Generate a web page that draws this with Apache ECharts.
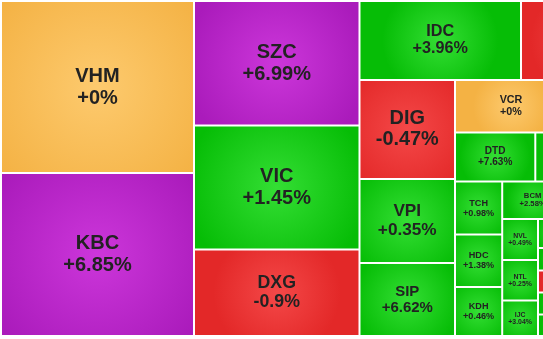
<!DOCTYPE html>
<html>
<head>
<meta charset="utf-8">
<script src="https://cdn.jsdelivr.net/npm/echarts@6/dist/echarts.min.js"></script>
<style>
html,body{margin:0;padding:0;background:#fff;overflow:hidden}
#main{width:543px;height:339px}
</style>
</head>
<body>
<div id="main"></div>
<script>
// ---- data ----
// '' = tile whose label lies outside the visible frame (only a sliver shows)
const tickers = ['VHM','KBC','SZC','VIC','DXG','IDC','','DIG','VPI','SIP','VCR','','DTD','','TCH','HDC','KDH','BCM','','NVL','NTL','IJC','','','','','',''];
const changes = [0, 6.85, 6.99, 1.45, -0.9, 3.96, null, -0.47, 0.35, 6.62, 0, null, 7.63, null, 0.98, 1.38, 0.46, 2.58, null, 0.49, 0.25, 3.04, null, null, null, null, null, null];
const states  = ['ref','ceil','ceil','up','down','up','down','down','up','up','ref','up','up','up','up','up','up','up','up','up','up','up','up','up','down','up','up','up'];
const sizes   = [33196, 31459, 20604.75, 20522, 14315.75, 12758.5, 10665, 9454.5, 8022, 6971.5, 5880, 4672.5, 3934.7, 5914.3, 2501.6, 2478, 2312.8, 2280, 3487.5, 1467.8, 1449.9, 1270.9, 1044, 810, 792, 792, 774, 9594];
const blocks  = ['g1','g1','g2','g2','g2','g3/a','g3/a','g3/b','g3/b','g3/b','g3/c/a','g3/c/a','g3/c/b','g3/c/b','g3/c/c','g3/c/c','g3/c/c','g3/c/d/a','g3/c/d/a','g3/c/d/b','g3/c/d/b','g3/c/d/b','g3/c/d/c/a','g3/c/d/c/a','g3/c/d/c/a','g3/c/d/c/a','g3/c/d/c/a','g3/c/d/c'];

// ---- styles ----
const FONT = '"Liberation Sans", Arial, sans-serif';
const palette = {
  up:   ['#34de34', '#06bd06'],
  down: ['#f44848', '#e32828'],
  ref:  ['#fdca6e', '#f4b244'],
  ceil: ['#cc36da', '#aa1bbb']
};
function fill(state) {
  const c = palette[state];
  return { type: 'radial', x: 0.5, y: 0.5, r: 0.75,
    colorStops: [{ offset: 0, color: c[0] }, { offset: 1, color: c[1] }] };
}
function fmt(v) { return (v >= 0 ? '+' : '') + v + '%'; }

const measureCtx = document.createElement('canvas').getContext('2d');
measureCtx.font = 'bold 100px ' + FONT;
function emWidth(i) {
  const a = measureCtx.measureText(tickers[i]).width;
  const b = measureCtx.measureText(fmt(changes[i])).width;
  return Math.max(a, b) / 100;
}

function buildTree(fonts) {
  const root = { children: [] };
  tickers.forEach((t, i) => {
    let node = root;
    blocks[i].split('/').forEach(key => {
      let child = node.children.find(c => c.key === key && c.children);
      if (!child) {
        child = { key: key, name: '', children: [], itemStyle: { borderWidth: 0, gapWidth: 0 } };
        node.children.push(child);
      }
      node = child;
    });
    const fs = fonts && fonts[t] ? fonts[t] : 12;
    node.children.push({
      name: t, value: sizes[i], change: changes[i],
      itemStyle: { color: fill(states[i]), borderWidth: 1, borderColor: '#fff' },
      label: { fontSize: fs, lineHeight: Math.round(fs * 1.08) }
    });
  });
  return root.children;
}

function makeOption(fonts) {
  return {
    animation: false,
    series: [{
      type: 'treemap',
      left: 1, top: 1, width: 655, height: 335,
      squareRatio: 0.01,
      sort: false,
      roam: false,
      nodeClick: false,
      breadcrumb: { show: false },
      itemStyle: { borderWidth: 0, gapWidth: 0, borderColor: '#fff' },
      upperLabel: { show: false },
      label: {
        show: true, position: 'inside', align: 'center', verticalAlign: 'middle',
        padding: 0, color: '#222', fontWeight: 'bold',
        fontFamily: FONT,
        formatter: p => (p.data && p.data.name) ? p.data.name + '\n' + fmt(p.data.change) : ''
      },
      emphasis: { disabled: true },
      data: buildTree(fonts)
    }]
  };
}

const chart = echarts.init(document.getElementById('main'), null, { renderer: 'canvas' });
chart.setOption(makeOption(null));

// label size follows the tile that the library laid out
const fonts = {};
try {
  const data = chart.getModel().getSeriesByIndex(0).getData();
  data.each(idx => {
    const name = data.getName(idx);
    const lay = data.getItemLayout(idx);
    const i = tickers.indexOf(name);
    if (name && lay && i >= 0) {
      fonts[name] = Math.max(6.5, Math.min(20, 0.205 * lay.height, 0.66 * lay.width / emWidth(i)));
    }
  });
} catch (e) {}
chart.setOption(makeOption(fonts));
</script>
</body>
</html>
